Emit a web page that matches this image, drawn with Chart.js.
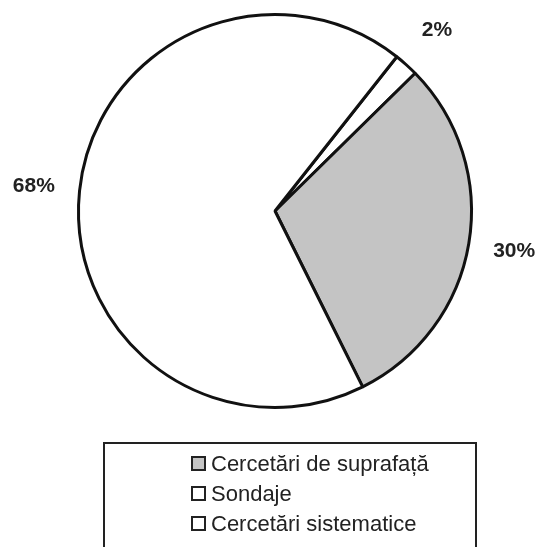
<!DOCTYPE html>
<html>
<head>
<meta charset="utf-8">
<script src="https://cdn.jsdelivr.net/npm/chart.js@4"></script>
<style>
  html, body { margin: 0; padding: 0; background: #fff; }
  #wrap { position: relative; width: 545px; height: 547px; overflow: hidden; }
  #chart { position: absolute; left: 0; top: 0; }
  #legend {
    position: absolute; left: 103px; top: 442px; width: 374px; height: 120px;
    border: 2px solid #222; box-sizing: border-box;
    font-family: "Liberation Sans", Arial, sans-serif; font-size: 22px; color: #222;
  }
  .item { position: absolute; left: 86px; height: 30px; line-height: 30px; white-space: nowrap; }
  .sw {
    display: inline-block; width: 11px; height: 11px; border: 2px solid #222;
    vertical-align: middle; margin-right: 5px; position: relative; top: -2px;
  }
</style>
</head>
<body>
<div id="wrap">
  <canvas id="chart" width="545" height="547"></canvas>
  <div id="legend"></div>
</div>
<script>
// Slices in clockwise drawing order
const labels = ['Sondaje', 'Cercetări de suprafață', 'Cercetări sistematice'];
const values = [2, 30, 68];
const colors = ['#ffffff', '#c4c4c4', '#ffffff'];
// Legend lists them in a different order
const legendOrder = [1, 0, 2];

// Percent labels outside the pie
const outsideLabels = {
  id: 'outsideLabels',
  afterDatasetsDraw(chart) {
    const ctx = chart.ctx;
    const total = values.reduce((a, b) => a + b, 0);
    chart.getDatasetMeta(0).data.forEach((arc, i) => {
      const mid = (arc.startAngle + arc.endAngle) / 2;
      const r = arc.outerRadius + 46;
      const x = arc.x + Math.cos(mid) * r;
      const y = arc.y + Math.sin(mid) * r;
      ctx.save();
      ctx.font = 'bold 21px "Liberation Sans", Arial, sans-serif';
      ctx.fillStyle = '#222';
      ctx.textAlign = 'center';
      ctx.textBaseline = 'middle';
      ctx.fillText(Math.round(values[i] / total * 100) + '%', x, y);
      ctx.restore();
    });
  }
};

new Chart(document.getElementById('chart').getContext('2d'), {
  type: 'pie',
  data: {
    labels: labels,
    datasets: [{
      data: values,
      backgroundColor: colors,
      borderColor: '#111',
      borderWidth: 3,
      hoverOffset: 0
    }]
  },
  options: {
    responsive: false,
    animation: false,
    rotation: 38.3,
    layout: { padding: { left: 77, right: 72, top: 13, bottom: 138 } },
    plugins: {
      legend: { display: false },
      tooltip: { enabled: false }
    }
  },
  plugins: [outsideLabels]
});

// HTML legend in a bordered box
const legendEl = document.getElementById('legend');
legendOrder.forEach((idx, row) => {
  const item = document.createElement('div');
  item.className = 'item';
  item.style.top = (5 + row * 30) + 'px';
  const sw = document.createElement('span');
  sw.className = 'sw';
  sw.style.background = colors[idx];
  item.appendChild(sw);
  item.appendChild(document.createTextNode(labels[idx]));
  legendEl.appendChild(item);
});
</script>
</body>
</html>
